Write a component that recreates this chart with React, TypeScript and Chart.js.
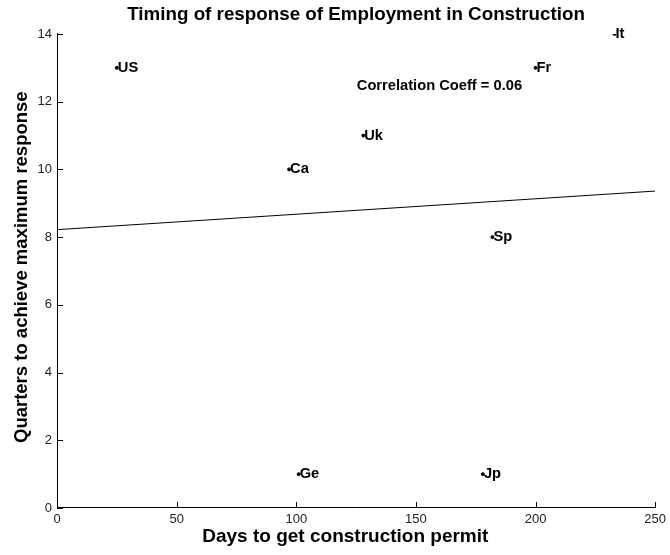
import { useEffect, useRef } from "react";
import { Chart, registerables } from "chart.js";

Chart.register(...registerables);

// Days needed to obtain a construction permit vs. quarters until the peak response
const COUNTRIES = ["US", "Ca", "Uk", "Ge", "Jp", "Sp", "Fr", "It"];
const PERMIT_DAYS = [25, 97, 128, 101, 178, 182, 200, 233];
const RESPONSE_QUARTERS = [13, 10, 11, 1, 1, 8, 13, 14];

// Least-squares fit line endpoints
const FIT_DAYS = [0, 250];
const FIT_QUARTERS = [8.22, 9.36];

const X_TICKS = [0, 50, 100, 150, 200, 250];
const Y_TICKS = [0, 2, 4, 6, 8, 10, 12, 14];

const TITLE = "Timing of response of Employment in Construction";
const X_TITLE = "Days to get construction permit";
const Y_TITLE = "Quarters to achieve maximum response";
const CORRELATION_TEXT = "Correlation Coeff = 0.06";
const CORRELATION_AT = { x: 125.3, y: 12.46 };

const FONT = '"Liberation Sans", Arial, Helvetica, sans-serif';

const inwardTicks = {
  id: "inwardTicks",
  afterDraw(chart: any) {
    const { ctx, chartArea, scales } = chart;
    const xs = scales.x;
    const ys = scales.y;
    ctx.save();
    ctx.strokeStyle = "#000";
    ctx.lineWidth = 1;
    ctx.beginPath();
    xs.ticks.forEach((t: any) => {
      const px = Math.round(xs.getPixelForValue(t.value)) + 0.5;
      ctx.moveTo(px, chartArea.bottom);
      ctx.lineTo(px, chartArea.bottom - 6);
    });
    ys.ticks.forEach((t: any) => {
      const py = Math.round(ys.getPixelForValue(t.value)) + 0.5;
      ctx.moveTo(chartArea.left, py);
      ctx.lineTo(chartArea.left + 6, py);
    });
    ctx.stroke();
    ctx.restore();
  },
};

// Axis titles, placed against the plot box
const axisTitles = {
  id: "axisTitles",
  afterDraw(chart: any) {
    const { ctx, chartArea } = chart;
    const w = chartArea.right - chartArea.left;
    const h = chartArea.bottom - chartArea.top;
    ctx.save();
    ctx.fillStyle = "#000";
    ctx.textAlign = "center";
    ctx.textBaseline = "middle";
    ctx.font = `bold 19px ${FONT}`;
    ctx.fillText(X_TITLE, chartArea.left + w * 0.482, chartArea.bottom + 29);
    ctx.translate(chartArea.left - 35.5, chartArea.top + h * 0.492);
    ctx.rotate(-Math.PI / 2);
    ctx.font = `bold 18.5px ${FONT}`;
    ctx.fillText(Y_TITLE, 0, 0);
    ctx.restore();
  },
};

const pointLabels = {
  id: "pointLabels",
  afterDatasetsDraw(chart: any) {
    const { ctx, scales } = chart;
    const meta = chart.getDatasetMeta(0);
    ctx.save();
    ctx.fillStyle = "#000";
    ctx.font = `bold 14.7px ${FONT}`;
    ctx.textAlign = "left";
    ctx.textBaseline = "middle";
    meta.data.forEach((el: any, i: number) => {
      ctx.fillText(COUNTRIES[i], el.x + 1, el.y);
    });
    ctx.fillText(
      CORRELATION_TEXT,
      scales.x.getPixelForValue(CORRELATION_AT.x),
      scales.y.getPixelForValue(CORRELATION_AT.y)
    );
    ctx.restore();
  },
};

export default function App() {
  const canvasRef = useRef<HTMLCanvasElement | null>(null);

  useEffect(() => {
    if (!canvasRef.current) return;
    Chart.defaults.font.family = FONT;

    const chart = new Chart(canvasRef.current, {
      type: "scatter",
      data: {
        datasets: [
          {
            label: "Countries",
            data: PERMIT_DAYS.map((d, i) => ({ x: d, y: RESPONSE_QUARTERS[i] })),
            backgroundColor: "#000",
            borderColor: "#000",
            pointRadius: 1.5,
            pointHoverRadius: 1.5,
          },
          {
            type: "line",
            label: "Fit",
            data: FIT_DAYS.map((d, i) => ({ x: d, y: FIT_QUARTERS[i] })),
            borderColor: "#000",
            borderWidth: 1,
            pointRadius: 0,
            fill: false,
          } as any,
        ],
      },
      options: {
        animation: false,
        responsive: false,
        events: [],
        layout: { padding: { left: 0, right: 13, top: 0, bottom: 0 } },
        plugins: {
          legend: { display: false },
          tooltip: { enabled: false },
          title: {
            display: true,
            text: TITLE,
            fullSize: false,
            color: "#000",
            font: { size: 18.8, weight: "bold", family: FONT },
            padding: { top: 4, bottom: 7.4 },
          },
        },
        scales: {
          x: {
            type: "linear",
            min: 0,
            max: 250,
            afterBuildTicks: (s: any) => {
              s.ticks = X_TICKS.map((v) => ({ value: v }));
            },
            afterFit: (s: any) => {
              s.height = 47;
            },
            grid: { display: true, drawOnChartArea: false, drawTicks: false },
            border: { display: true, color: "#000", width: 1 },
            ticks: { color: "#222", font: { size: 13 }, padding: 4, maxRotation: 0 },
          },
          y: {
            type: "linear",
            min: 0,
            max: 14,
            afterBuildTicks: (s: any) => {
              s.ticks = Y_TICKS.map((v) => ({ value: v }));
            },
            afterFit: (s: any) => {
              s.width = 57;
            },
            grid: { display: true, drawOnChartArea: false, drawTicks: false },
            border: { display: true, color: "#000", width: 1 },
            ticks: { color: "#222", font: { size: 13 }, padding: 5 },
          },
        },
      },
      plugins: [inwardTicks, axisTitles, pointLabels],
    });

    return () => chart.destroy();
  }, []);

  return (
    <div style={{ position: "fixed", left: 0, top: 0, width: 670, height: 555, background: "#fff" }}>
      <canvas ref={canvasRef} width={670} height={555} />
    </div>
  );
}
